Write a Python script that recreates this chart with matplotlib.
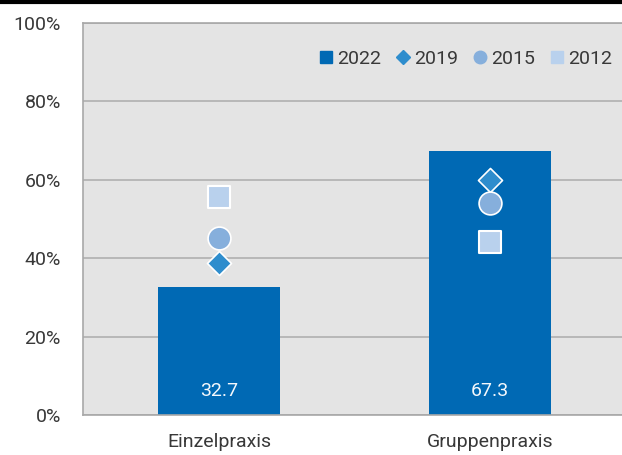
import matplotlib
matplotlib.use("Agg")
import matplotlib.pyplot as plt
from matplotlib.lines import Line2D

plt.rcParams['font.family'] = ['Roboto', 'DejaVu Sans']
plt.rcParams['font.weight'] = 'normal'

categories = ["Einzelpraxis", "Gruppenpraxis"]
v2022 = [32.7, 67.3]
v2019 = [38.9, 60.0]
v2015 = [45.2, 54.2]
v2012 = [55.7, 44.2]
yticks = [0, 20, 40, 60, 80, 100]
ytick_labels = ["0%", "20%", "40%", "60%", "80%", "100%"]

c2022 = "#0069B4"
c2019 = "#2E8DCD"
c2015 = "#86AFDC"
c2012 = "#B9D1ED"
txt = "#383838"
fs = 14

fig = plt.figure(figsize=(6.22, 4.55), dpi=100)
ax = fig.add_axes([83/622, 40/455, 539/622, 392/455])
ax.set_facecolor("#E4E4E4")

x = list(range(len(categories)))
ax.bar(x, v2022, width=0.45, color=c2022, zorder=2, label="2022")
ax.scatter(x, v2019, marker="D", s=150, color=c2019, edgecolors="white", linewidths=1.2, zorder=3, label="2019")
ax.scatter(x, v2015, marker="o", s=270, color=c2015, edgecolors="white", linewidths=1.2, zorder=3, label="2015")
ax.scatter(x, v2012, marker="s", s=260, color=c2012, edgecolors="white", linewidths=1.5, zorder=3, label="2012")

for xi, v in zip(x, v2022):
    ax.text(xi, 6.0, f"{v:.1f}", ha="center", va="center", color="#F4F8FC", fontsize=fs, zorder=4)

ax.set_xlim(-0.502, 1.487)
ax.set_ylim(0, 100)
ax.set_yticks(yticks)
ax.set_yticklabels(ytick_labels, fontsize=fs, color=txt)
ax.set_xticks(x)
ax.set_xticklabels(categories, fontsize=fs, color=txt)
ax.tick_params(axis="both", length=0)
ax.tick_params(axis="y", pad=16)
ax.tick_params(axis="x", pad=13)
ax.yaxis.grid(True, color="#B0B0B0", linewidth=1.2, zorder=0)
ax.set_axisbelow(True)
for s in ["left", "bottom", "top"]:
    ax.spines[s].set_color("#A8A8A8")
    ax.spines[s].set_linewidth(1.2)
ax.spines["right"].set_visible(False)

handles = [
    Line2D([], [], marker="s", linestyle="none", color=c2022, markersize=9),
    Line2D([], [], marker="D", linestyle="none", color=c2019, markersize=7),
    Line2D([], [], marker="o", linestyle="none", color=c2015, markersize=9),
    Line2D([], [], marker="s", linestyle="none", color=c2012, markersize=9),
]
leg = ax.legend(handles, ["2022", "2019", "2015", "2012"], loc="upper right",
                bbox_to_anchor=(1.0, 0.957), ncol=4, frameon=False, fontsize=fs,
                handletextpad=0.1, columnspacing=0.6, handlelength=1.0, borderaxespad=0.1)
for t in leg.get_texts():
    t.set_color(txt)

fig.add_artist(Line2D([0, 1], [1 - 1.5/455, 1 - 1.5/455], color="black", linewidth=3, transform=fig.transFigure))

fig.savefig("out.png", dpi=100)
